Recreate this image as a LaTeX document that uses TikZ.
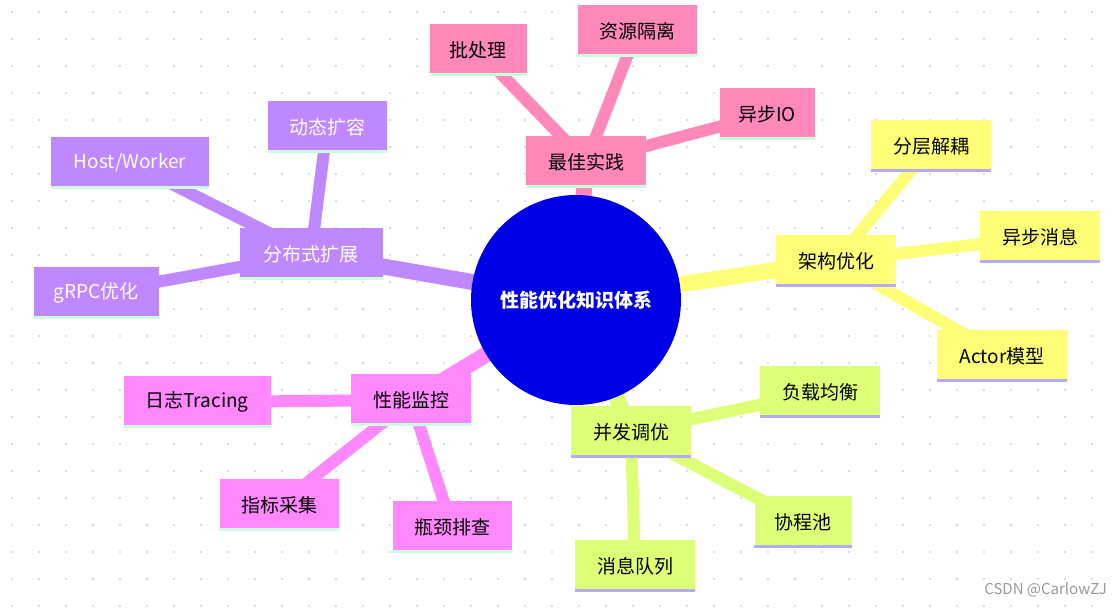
\documentclass[tikz,border=0pt]{standalone}
\usepackage{fontspec}
\setmainfont{Noto Sans CJK SC}
\begin{document}
\begin{tikzpicture}[x=1pt,y=-1pt]
\definecolor{cpink}{RGB}{255,136,187}
\definecolor{cyel}{RGB}{255,255,119}
\definecolor{cgrn}{RGB}{221,255,119}
\definecolor{cmag}{RGB}{255,136,255}
\definecolor{cpur}{RGB}{192,136,255}
\definecolor{lgrn}{RGB}{204,255,221}
\definecolor{lav}{RGB}{180,170,255}
\definecolor{cblue}{RGB}{0,0,230}
\tikzset{mm/.style={inner sep=0pt,font=\fontsize{19}{22}\selectfont},
  root/.style={thick line/.style={}},
  e1/.style={line width=16pt},e2/.style={line width=12pt}}
\useasboundingbox (0,0) rectangle (1114,608);
\fill[white] (0,0) rectangle (1114,608);
\foreach \i in {0,...,41}{\foreach \j in {0,...,22}{\fill[black!18] (12+27*\i,12+27*\j) circle (1.2);}}
\newcommand\mmn[8]{% name, x, y, w, fill, accent, textcolor, text
  \node[mm,fill=#5,text=#7,minimum width=#4pt,minimum height=52pt] (#1) at (#2,#3) {#8};
  \draw[#6,line width=3pt] ([yshift=1.5pt]#1.south west)--([yshift=1.5pt]#1.south east);}
% coordinates
\coordinate (r) at (576,300);
\coordinate (a) at (586,162); \coordinate (a1) at (478,50); \coordinate (a2) at (637,31); \coordinate (a3) at (767,114);
\coordinate (b) at (836,261); \coordinate (b1) at (931,146); \coordinate (b2) at (1040,237); \coordinate (b3) at (1002,356);
\coordinate (c) at (631,432); \coordinate (c1) at (820,392); \coordinate (c2) at (803,522); \coordinate (c3) at (635,566);
\coordinate (d) at (411,400); \coordinate (d1) at (197,402); \coordinate (d2) at (279,505); \coordinate (d3) at (452,527);
\coordinate (f) at (311,254); \coordinate (f1) at (327,127); \coordinate (f2) at (130,163); \coordinate (f3) at (96,293);
% edges
\draw[cpink,e1] (r)--(a); \draw[cpink,e2] (a)--(a1) (a)--(a2) (a)--(a3);
\draw[cyel,e1] (r)--(b); \draw[cyel,e2] (b)--(b1) (b)--(b2) (b)--(b3);
\draw[cgrn,e1] (r)--(c); \draw[cgrn,e2] (c)--(c1) (c)--(c2) (c)--(c3);
\draw[cmag,e1] (r)--(d); \draw[cmag,e2] (d)--(d1) (d)--(d2) (d)--(d3);
\draw[cpur,e1] (r)--(f); \draw[cpur,e2] (f)--(f1) (f)--(f2) (f)--(f3);
% nodes
\node[circle,fill=cblue,minimum size=210pt,text=white,font=\fontsize{19}{22}\selectfont\bfseries,inner sep=0pt] (root) at (r) {性能优化知识体系};
\mmn{na}{586}{162}{120}{cpink}{lgrn}{black}{最佳实践}
\mmn{na1}{478}{50}{97}{cpink}{lgrn}{black}{批处理}
\mmn{na2}{637}{31}{119}{cpink}{lgrn}{black}{资源隔离}
\mmn{na3}{767}{114}{95}{cpink}{lgrn}{black}{异步IO}
\mmn{nb}{836}{261}{120}{cyel}{lav}{black}{架构优化}
\mmn{nb1}{931}{146}{120}{cyel}{lav}{black}{分层解耦}
\mmn{nb2}{1040}{237}{120}{cyel}{lav}{black}{异步消息}
\mmn{nb3}{1002}{356}{130}{cyel}{lav}{black}{Actor模型}
\mmn{nc}{631}{432}{120}{cgrn}{lav}{black}{并发调优}
\mmn{nc1}{820}{392}{120}{cgrn}{lav}{black}{负载均衡}
\mmn{nc2}{803}{522}{97}{cgrn}{lav}{black}{协程池}
\mmn{nc3}{635}{566}{120}{cgrn}{lav}{black}{消息队列}
\mmn{nd}{411}{400}{120}{cmag}{lgrn}{black}{性能监控}
\mmn{nd1}{197}{402}{147}{cmag}{lgrn}{black}{日志Tracing}
\mmn{nd2}{279}{505}{119}{cmag}{lgrn}{black}{指标采集}
\mmn{nd3}{452}{527}{119}{cmag}{lgrn}{black}{瓶颈排查}
\mmn{nf}{311}{254}{143}{cpur}{lgrn}{white}{分布式扩展}
\mmn{nf1}{327}{127}{119}{cpur}{lgrn}{white}{动态扩容}
\mmn{nf2}{130}{163}{158}{cpur}{lgrn}{white}{Host/Worker}
\mmn{nf3}{96}{293}{125}{cpur}{lgrn}{white}{gRPC优化}
\node[anchor=south east,text=black!40,font=\fontsize{15}{18}\selectfont,inner sep=3pt] (wm) at (1110,600) {CSDN @CarlowZJ};
\end{tikzpicture}
\end{document}
